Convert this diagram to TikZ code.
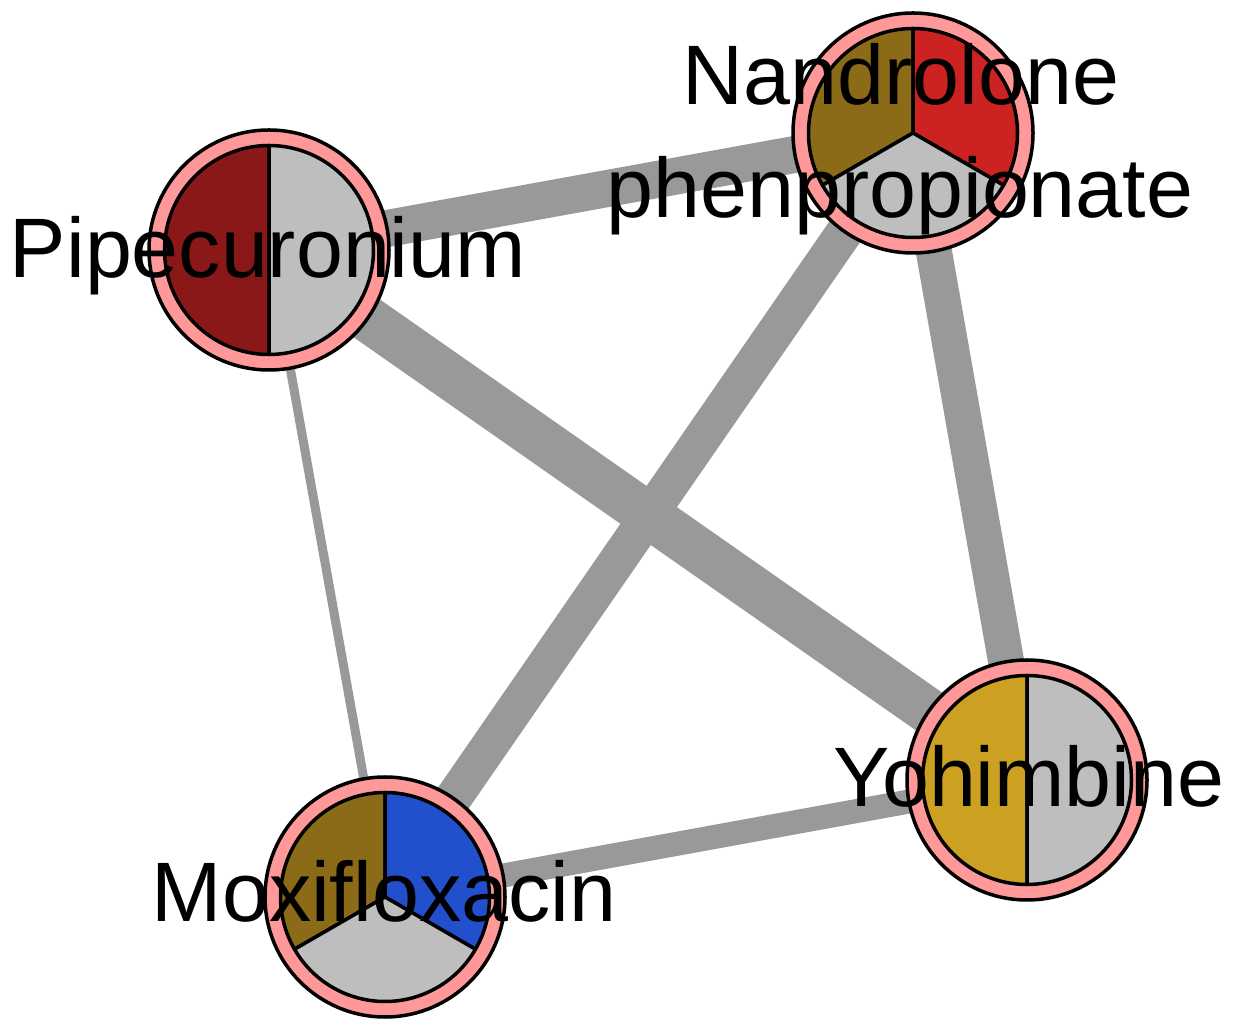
\documentclass[tikz,border=0pt]{standalone}
\usepackage{fontspec}
\setmainfont{Liberation Sans}
\definecolor{edgegray}{HTML}{999999}
\definecolor{ringpink}{HTML}{FF9999}
\definecolor{pielight}{HTML}{BEBEBE}
\definecolor{pipred}{HTML}{8B1818}
\definecolor{olive}{HTML}{8B6B17}
\definecolor{nandred}{HTML}{CC2222}
\definecolor{yohgold}{HTML}{CCA020}
\definecolor{moxblue}{HTML}{2250CC}
\tikzset{
	edge/.style={draw=edgegray},
	ring/.style={fill=ringpink, draw=black, line width=0.035cm},
	slice/.style={draw=black, line width=0.035cm, line join=round},
	lbl/.style={font=\fontsize{24}{29}\selectfont, inner sep=0pt, anchor=base}
}

\begin{document}
\begin{tikzpicture}[x=0.01cm,y=0.01cm]
	\useasboundingbox (0,0) rectangle (1233,-1019);

	\coordinate (pip) at (269,-250);
	\coordinate (nand) at (913,-133);
	\coordinate (yoh) at (1027,-780);
	\coordinate (mox) at (385,-897);

	% edges
	\draw[edge, line width=0.37cm] (pip) -- (nand);
	\draw[edge, line width=0.46cm] (pip) -- (yoh);
	\draw[edge, line width=0.09cm] (pip) -- (mox);
	\draw[edge, line width=0.37cm] (nand) -- (mox);
	\draw[edge, line width=0.36cm] (nand) -- (yoh);
	\draw[edge, line width=0.24cm] (mox) -- (yoh);

	% nodes
	\foreach \n in {pip,nand,yoh,mox} {
		\draw[ring] (\n) circle[radius=120];
	}
	\foreach \n/\a/\b/\c in {pip/90/270/pipred, pip/-90/90/pielight,
		nand/90/210/olive, nand/-30/90/nandred, nand/210/330/pielight,
		yoh/90/270/yohgold, yoh/-90/90/pielight,
		mox/90/210/olive, mox/-30/90/moxblue, mox/210/330/pielight} {
		\filldraw[slice, fill=\c] (\n) -- ++(\a:104.5)
			arc[start angle=\a, end angle=\b, radius=104.5] -- cycle;
	}

	% labels
	\node[lbl] (piplbl) at (268,-278) {Pipecuronium};
	\node[lbl] (nandlbl) at (901,-105) {Nandrolone};
	\node[lbl] (nandlblb) at (900,-218) {phenpropionate};
	\node[lbl] (yohlbl) at (1029,-807) {Yohimbine};
	\node[lbl] (moxlbl) at (384,-922) {Moxifloxacin};
\end{tikzpicture}
\end{document}
